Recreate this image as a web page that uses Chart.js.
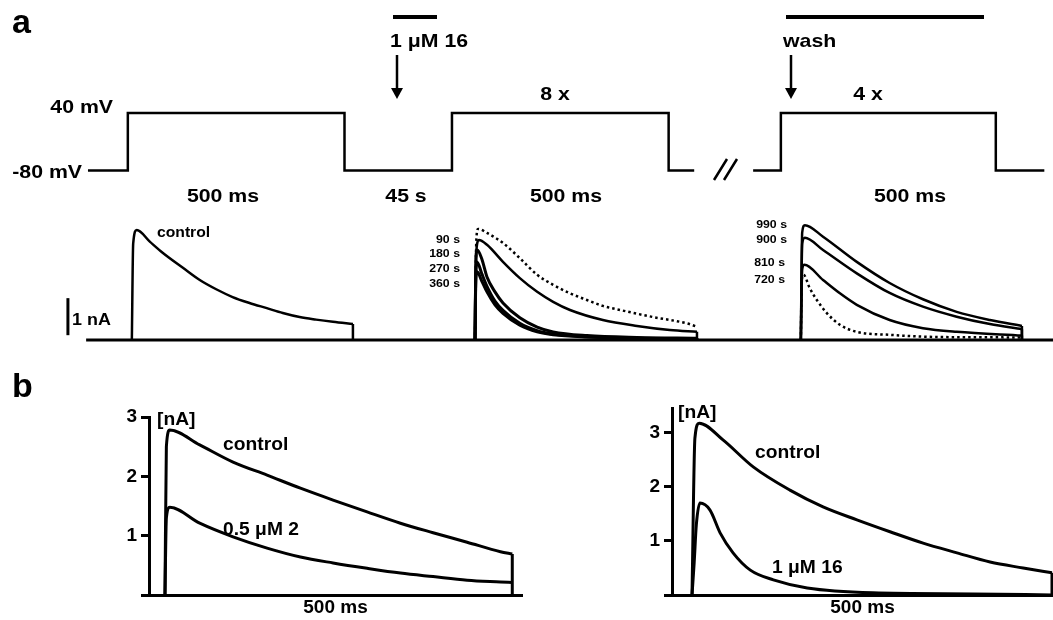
<!DOCTYPE html>
<html>
<head>
<meta charset="utf-8">
<script src="https://cdn.jsdelivr.net/npm/chart.js@4.4.1/dist/chart.umd.min.js"></script>
<style>
  body { margin: 0; background: #fff; }
  #wrap { position: relative; width: 1053px; height: 620px; }
  #wrap canvas { position: absolute; left: 0; top: 0; }
</style>
</head>
<body>
<div id="wrap">
  <canvas id="protocol" width="1053" height="620"></canvas>
  <canvas id="currents" width="1053" height="620"></canvas>
  <canvas id="bLeft" width="1053" height="620"></canvas>
  <canvas id="bRight" width="1053" height="620"></canvas>
</div>
<script>
// panel a, voltage protocol (schematic time in ms, mV)
const protoTimesA = [203, 295, 295, 795, 795, 1043, 1043, 1543, 1543, 1602];
const protoVoltsA = [-80, -80, 40, 40, -80, -80, 40, 40, -80, -80];
const protoTimesB = [1738, 1802, 1802, 2298, 2298, 2410];
const protoVoltsB = [-80, -80, 40, 40, -80, -80];

// panel a, currents (ms from pulse start, nA)
const traceStarts = [297, 1070, 1804];
const baselineT = [194, 2372];
const baselineI = [0, 0];
const scaleBarT = [153, 153];
const scaleBarI = [0.13, 1.13];

const controlT = [0, 3, 11, 41, 70, 115, 153, 190, 227, 265, 304, 340, 378, 415, 453, 498];
const controlI = [0, 2.6, 2.97, 2.65, 2.35, 1.95, 1.62, 1.37, 1.16, 1.0, 0.86, 0.73, 0.62, 0.55, 0.49, 0.43];

const t90 = [0, 3, 7, 27, 63, 101, 140, 176, 214, 252, 288, 327, 401, 477, 500];
const i90 = [0, 2.7, 3.0, 2.89, 2.62, 2.21, 1.76, 1.49, 1.26, 1.08, 0.92, 0.81, 0.62, 0.45, 0.36];
const t180 = [0, 3, 9, 27, 63, 101, 140, 176, 214, 288, 365, 439, 500];
const i180 = [0, 2.4, 2.7, 2.57, 2.11, 1.67, 1.3, 1.03, 0.81, 0.54, 0.38, 0.27, 0.22];
const tFast = [0, 2, 5, 15, 27, 45, 63, 101, 140, 176, 252, 365, 500];
const i270 = [0, 2.2, 2.43, 2.2, 1.7, 1.3, 1.0, 0.6, 0.35, 0.22, 0.12, 0.07, 0.05];
const i360 = [0, 1.9, 2.1, 1.8, 1.45, 1.05, 0.8, 0.45, 0.25, 0.16, 0.09, 0.05, 0.04];
const iLate = [0, 1.7, 1.84, 1.6, 1.3, 0.95, 0.72, 0.4, 0.22, 0.14, 0.08, 0.05, 0.03];

const tWash = [0, 3, 9, 50, 126, 200, 275, 351, 426, 498];
const i990 = [0, 2.9, 3.1, 2.79, 2.11, 1.54, 1.1, 0.76, 0.54, 0.38];
const i900 = [0, 2.6, 2.76, 2.43, 1.8, 1.27, 0.9, 0.63, 0.43, 0.29];
const t810 = [0, 3, 8, 50, 88, 126, 200, 275, 351, 498];
const i810 = [0, 1.9, 2.03, 1.62, 1.26, 0.95, 0.54, 0.32, 0.22, 0.12];
const t720 = [0, 2, 6, 20, 36, 59, 88, 126, 200, 313, 498];
const i720 = [0, 1.6, 1.76, 1.4, 1.08, 0.72, 0.41, 0.22, 0.14, 0.08, 0.07];

// panel b (ms, nA)
const bLeftT = [0, 2, 7, 50, 98, 147, 195, 242, 291, 339, 386, 435, 483, 500];
const bLeftControl = [0, 2.5, 2.78, 2.53, 2.24, 2.02, 1.8, 1.6, 1.4, 1.21, 1.05, 0.89, 0.73, 0.69];
const bLeftDrug = [0, 1.3, 1.48, 1.21, 0.98, 0.79, 0.64, 0.54, 0.45, 0.37, 0.31, 0.25, 0.22, 0.21];
const bRightT = [0, 4, 10, 43, 85, 136, 182, 229, 275, 321, 368, 414, 460, 500];
const bRightControl = [0, 2.9, 3.18, 2.87, 2.37, 1.94, 1.63, 1.39, 1.17, 0.96, 0.78, 0.61, 0.5, 0.41];
const bRightDrugT = [0, 3, 6, 11, 25, 39, 57, 81, 113, 160, 251, 390, 500];
const bRightDrug = [0, 0.6, 1.3, 1.7, 1.57, 1.15, 0.78, 0.46, 0.28, 0.13, 0.04, 0.02, 0];

const FONT = '"Liberation Sans", Arial, sans-serif';
Chart.defaults.font.family = FONT;
Chart.defaults.font.weight = 'bold';
Chart.defaults.color = '#000';

const xy = (ts, vs, off = 0) => ts.map((t, i) => ({ x: t + off, y: vs[i] }));

function line(ts, vs, off, extra) {
    return Object.assign({
        data: xy(ts, vs, off),
        borderColor: '#000',
        borderWidth: 2.5,
        pointRadius: 0,
        fill: false,
        cubicInterpolationMode: 'monotone'
    }, extra || {});
}

// a recorded sweep: smooth curve plus the straight drop back to zero at pulse end
function sweep(ts, vs, off, extra) {
    const n = ts.length - 1;
    const drop = line([ts[n], ts[n]], [vs[n], 0], off, Object.assign({}, extra, { borderDash: [], cubicInterpolationMode: 'default', tension: 0 }));
    return [line(ts, vs, off, extra), drop];
}

function text(ctx, t) {
    ctx.save();
    ctx.font = 'bold ' + t.size + 'px ' + FONT;
    ctx.fillStyle = '#000';
    ctx.textBaseline = 'alphabetic';
    const sx = t.sx || 1.12;
    const w = ctx.measureText(t.text).width * sx;
    let x = t.x;
    if (t.align === 'right') x -= w;
    if (t.align === 'center') x -= w / 2;
    ctx.translate(x, t.y);
    ctx.scale(sx, 1);
    ctx.fillText(t.text, 0, 0);
    ctx.restore();
}

function notes(items, extra) {
    return {
        id: 'notes',
        afterDraw(chart) {
            const ctx = chart.ctx;
            items.forEach(t => text(ctx, t));
            if (extra) extra(ctx);
        }
    };
}

const base = {
    responsive: false,
    animation: false,
    plugins: { legend: { display: false }, tooltip: { enabled: false } }
};

// protocol
const protoNotes = [
    { text: 'a', x: 12, y: 33, size: 34, sx: 1 },
    { text: '40 mV', x: 113, y: 113, size: 19, align: 'right' },
    { text: '-80 mV', x: 82, y: 178, size: 19, align: 'right' },
    { text: '500 ms', x: 223, y: 202, size: 19, align: 'center' },
    { text: '45 s', x: 406, y: 202, size: 19, align: 'center' },
    { text: '500 ms', x: 566, y: 202, size: 19, align: 'center' },
    { text: '500 ms', x: 910, y: 202, size: 19, align: 'center' },
    { text: '1 μM 16', x: 390, y: 47, size: 19 },
    { text: '8 x', x: 555, y: 100, size: 19, align: 'center' },
    { text: 'wash', x: 783, y: 47, size: 19 },
    { text: '4 x', x: 868, y: 100, size: 19, align: 'center' }
];

function arrow(ctx, x, y1, y2) {
    ctx.beginPath();
    ctx.moveTo(x, y1);
    ctx.lineTo(x, y2 - 9);
    ctx.stroke();
    ctx.beginPath();
    ctx.moveTo(x - 6, y2 - 11);
    ctx.lineTo(x + 6, y2 - 11);
    ctx.lineTo(x, y2);
    ctx.closePath();
    ctx.fill();
}

new Chart(document.getElementById('protocol'), {
    type: 'line',
    data: {
        datasets: [
            line(protoTimesA, protoVoltsA, 0, { cubicInterpolationMode: 'default', tension: 0 }),
            line(protoTimesB, protoVoltsB, 0, { cubicInterpolationMode: 'default', tension: 0 })
        ]
    },
    options: Object.assign({}, base, {
        layout: { padding: { top: 0, left: 0, right: 0, bottom: 420 } },
        scales: {
            x: { type: 'linear', display: false, min: 0, max: 2430 },
            y: { display: false, min: -141.6, max: 275.8 }
        }
    }),
    plugins: [notes(protoNotes, ctx => {
        ctx.save();
        ctx.fillStyle = '#000';
        ctx.strokeStyle = '#000';
        ctx.lineWidth = 2.5;
        ctx.fillRect(393, 15, 44, 4);
        ctx.fillRect(786, 15, 198, 4);
        arrow(ctx, 397, 55, 99);
        arrow(ctx, 791, 55, 99);
        // axis break
        ctx.beginPath();
        ctx.moveTo(714, 180); ctx.lineTo(727, 159);
        ctx.moveTo(724, 180); ctx.lineTo(737, 159);
        ctx.stroke();
        ctx.restore();
    })]
});

// currents
const curNotes = [
    { text: 'control', x: 157, y: 237, size: 14 },
    { text: '90 s', x: 460, y: 243, size: 11, align: 'right' },
    { text: '180 s', x: 460, y: 257, size: 11, align: 'right' },
    { text: '270 s', x: 460, y: 272, size: 11, align: 'right' },
    { text: '360 s', x: 460, y: 287, size: 11, align: 'right' },
    { text: '990 s', x: 787, y: 228, size: 11, align: 'right' },
    { text: '900 s', x: 787, y: 243, size: 11, align: 'right' },
    { text: '810 s', x: 785, y: 266, size: 11, align: 'right' },
    { text: '720 s', x: 785, y: 283, size: 11, align: 'right' },
    { text: '1 nA', x: 72, y: 325, size: 16 }
];

const dotted = { borderDash: [2.5, 3], borderWidth: 2.5 };
const thick = { borderWidth: 3 };

new Chart(document.getElementById('currents'), {
    type: 'line',
    data: {
        datasets: [
            line(baselineT, baselineI, 0, { borderWidth: 3 }),
            line(scaleBarT, scaleBarI, 0, { borderWidth: 3 }),
            ...sweep(controlT, controlI, traceStarts[0]),
            line(t90, i90, traceStarts[1], dotted),
            ...sweep(t180, i180, traceStarts[1]),
            ...sweep(tFast, i270, traceStarts[1], thick),
            ...sweep(tFast, i360, traceStarts[1], thick),
            ...sweep(tFast, iLate, traceStarts[1], thick),
            ...sweep(tWash, i990, traceStarts[2]),
            ...sweep(tWash, i900, traceStarts[2]),
            ...sweep(t810, i810, traceStarts[2]),
            line(t720, i720, traceStarts[2], dotted)
        ]
    },
    options: Object.assign({}, base, {
        layout: { padding: { top: 200, left: 0, right: 0, bottom: 270 } },
        scales: {
            x: { type: 'linear', display: false, min: 0, max: 2372 },
            y: { display: false, min: -0.27, max: 3.78 }
        }
    }),
    plugins: [notes(curNotes)]
});

// panel b
function panelB(id, opts) {
    new Chart(document.getElementById(id), {
        type: 'line',
        data: { datasets: opts.datasets },
        options: Object.assign({}, base, {
            layout: { padding: opts.padding },
            scales: {
                x: {
                    type: 'linear', min: opts.xMin, max: opts.xMax,
                    border: { display: true, width: 3, color: '#000' },
                    grid: { display: false },
                    ticks: { display: false },
                    title: { display: true, text: '500 ms', color: '#000', font: { size: 19, weight: 'bold' }, padding: { top: 0, bottom: 1 } },
                    afterFit: s => { s.height = 25; }
                },
                y: {
                    min: 0, max: opts.yMax,
                    border: { display: true, width: 3, color: '#000' },
                    grid: { drawOnChartArea: false, tickLength: 8, tickWidth: 3, tickColor: '#000' },
                    ticks: {
                        stepSize: 1, includeBounds: false, padding: 4, color: '#000',
                        font: { size: 19, weight: 'bold' },
                        callback: v => (v === 0 ? '' : v)
                    },
                    afterFit: s => { s.width = opts.yWidth; }
                }
            }
        }),
        plugins: [notes(opts.notes)]
    });
}

panelB('bLeft', {
    datasets: [
        ...sweep(bLeftT, bLeftControl, 0, thick),
        line(bLeftT, bLeftDrug, 0, thick)
    ],
    padding: { top: 417, left: 0, right: 531, bottom: 0 },
    yWidth: 149, xMin: -23, xMax: 514, yMax: 3,
    notes: [
        { text: 'b', x: 12, y: 397, size: 34, sx: 1 },
        { text: '[nA]', x: 157, y: 425, size: 17.5, sx: 1.1 },
        { text: 'control', x: 223, y: 450, size: 17.5, sx: 1.1 },
        { text: '0.5 μM 2', x: 223, y: 535, size: 17.5, sx: 1.1 }
    ]
});

panelB('bRight', {
    datasets: [
        ...sweep(bRightT, bRightControl, 0, thick),
        line(bRightDrugT, bRightDrug, 0, thick)
    ],
    padding: { top: 408, left: 530, right: 0, bottom: 0 },
    yWidth: 142, xMin: -27.8, xMax: 501.4, yMax: 3.46,
    notes: [
        { text: '[nA]', x: 678, y: 418, size: 17.5, sx: 1.1 },
        { text: 'control', x: 755, y: 458, size: 17.5, sx: 1.1 },
        { text: '1 μM 16', x: 772, y: 573, size: 17.5, sx: 1.1 }
    ]
});
</script>
</body>
</html>
